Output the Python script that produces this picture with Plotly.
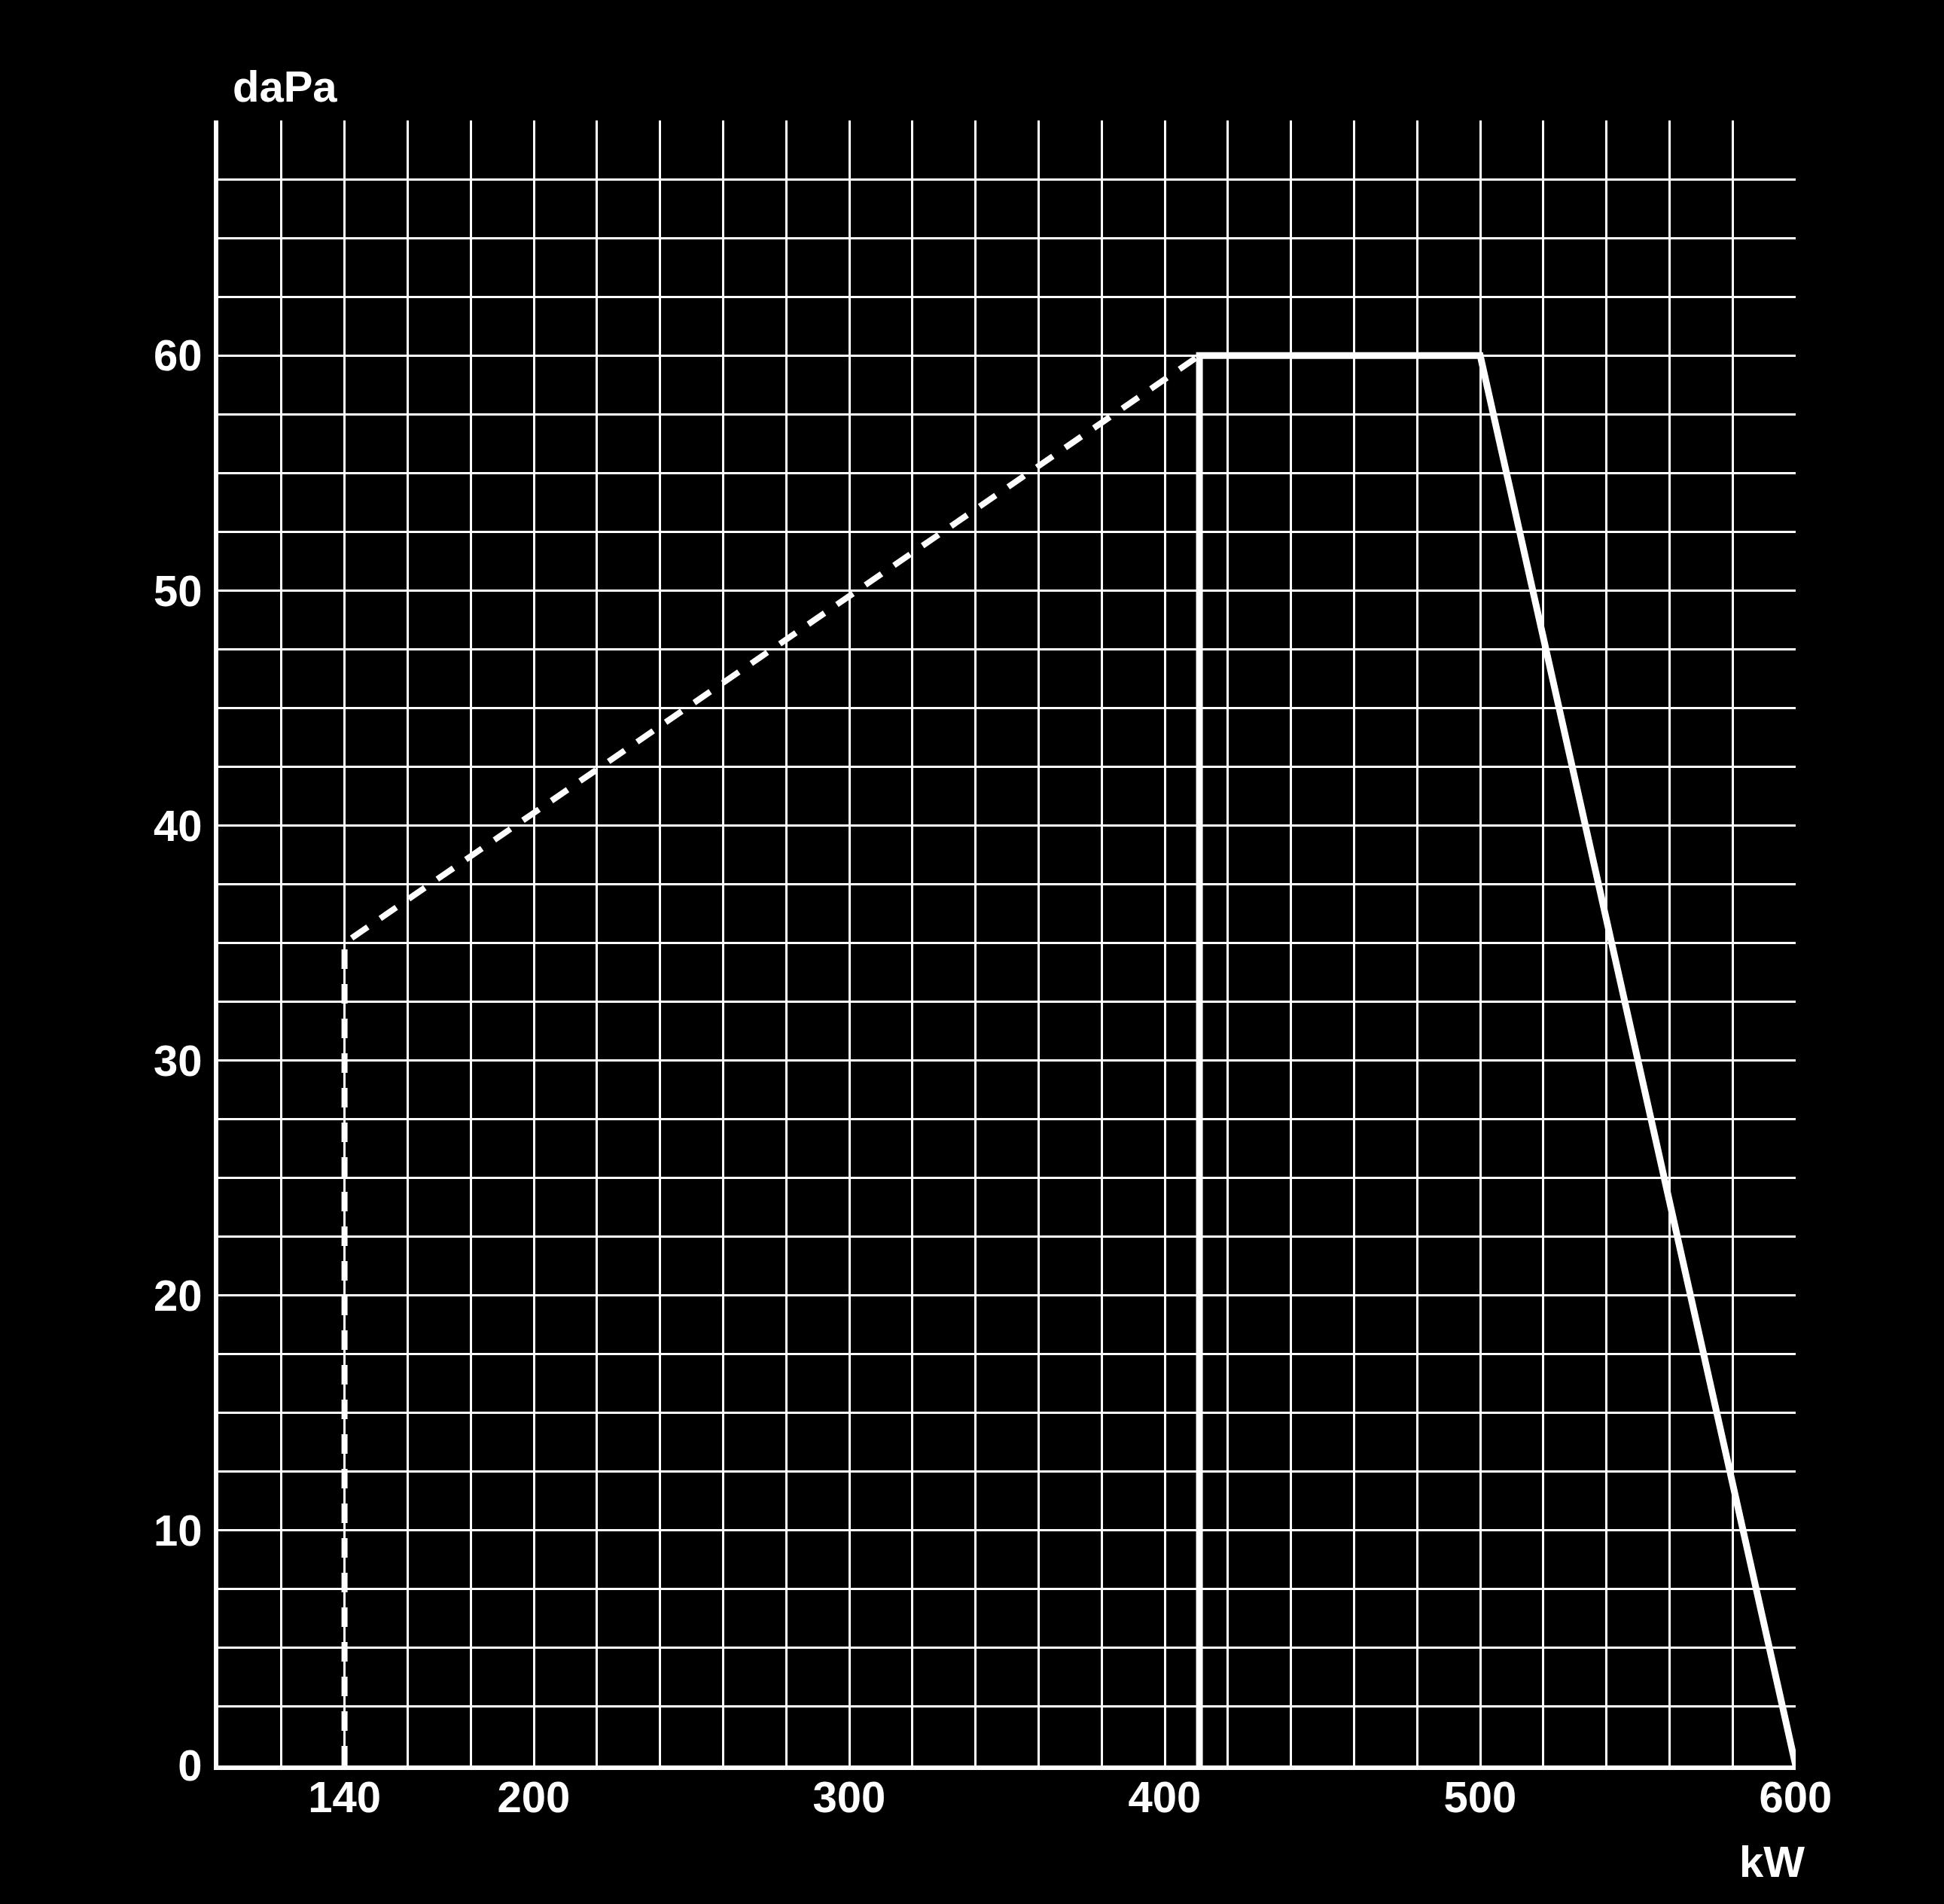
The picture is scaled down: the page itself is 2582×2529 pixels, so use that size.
import plotly.graph_objects as go

# Data (kW, daPa)
dashed_kw = [140, 140, 411]
dashed_dapa = [0, 35, 60]
solid_kw = [411, 411, 500, 600]
solid_dapa = [0, 60, 60, 0]

x_ticks = [140, 200, 300, 400, 500, 600]
y_ticks = [0, 10, 20, 30, 40, 50, 60]

FONT = "Liberation Sans"
FS = 58

fig = go.Figure()
fig.add_trace(go.Scatter(x=dashed_kw, y=dashed_dapa, mode="lines",
                         line=dict(color="white", width=8, dash="26px,20px"),
                         showlegend=False, hoverinfo="skip"))
fig.add_trace(go.Scatter(x=solid_kw, y=solid_dapa, mode="lines",
                         line=dict(color="white", width=9),
                         showlegend=False, hoverinfo="skip"))

fig.update_layout(
    width=2582, height=2529,
    paper_bgcolor="black", plot_bgcolor="black",
    margin=dict(l=290, r=197, t=160, b=184),
    font=dict(family=FONT, color="white", size=FS, weight="bold"),
    xaxis=dict(range=[100, 600], tickmode="array", tickvals=x_ticks,
               ticktext=[str(v) for v in x_ticks],
               showgrid=True, gridcolor="white", gridwidth=3,
               minor=dict(dtick=20, tick0=100, showgrid=True, gridcolor="white", gridwidth=3),
               showline=True, linecolor="white", linewidth=6,
               zeroline=False, ticks="", ticklabelstandoff=-14,
               tickfont=dict(family=FONT, size=FS, color="white", weight="bold")),
    yaxis=dict(range=[0, 70], tickmode="array", tickvals=y_ticks,
               ticktext=[str(v) for v in y_ticks],
               showgrid=True, gridcolor="white", gridwidth=3,
               minor=dict(dtick=2.5, tick0=0, showgrid=True, gridcolor="white", gridwidth=3),
               showline=True, linecolor="white", linewidth=6,
               zeroline=False, ticks="", ticklabelstandoff=4,
               tickfont=dict(family=FONT, size=FS, color="white", weight="bold")),
    annotations=[
        dict(text="daPa", xref="paper", yref="paper", x=0, y=1, xshift=17, yshift=46,
             xanchor="left", yanchor="middle", showarrow=False,
             font=dict(family=FONT, size=FS, color="white", weight="bold")),
        dict(text="kW", xref="paper", yref="paper", x=1, y=0, xshift=14, yshift=-127,
             xanchor="right", yanchor="middle", showarrow=False,
             font=dict(family=FONT, size=FS, color="white", weight="bold")),
    ],
)

fig.write_html("out.html", config={"displayModeBar": False},
               post_script="document.body.style.margin='0';document.body.style.background='black';")
